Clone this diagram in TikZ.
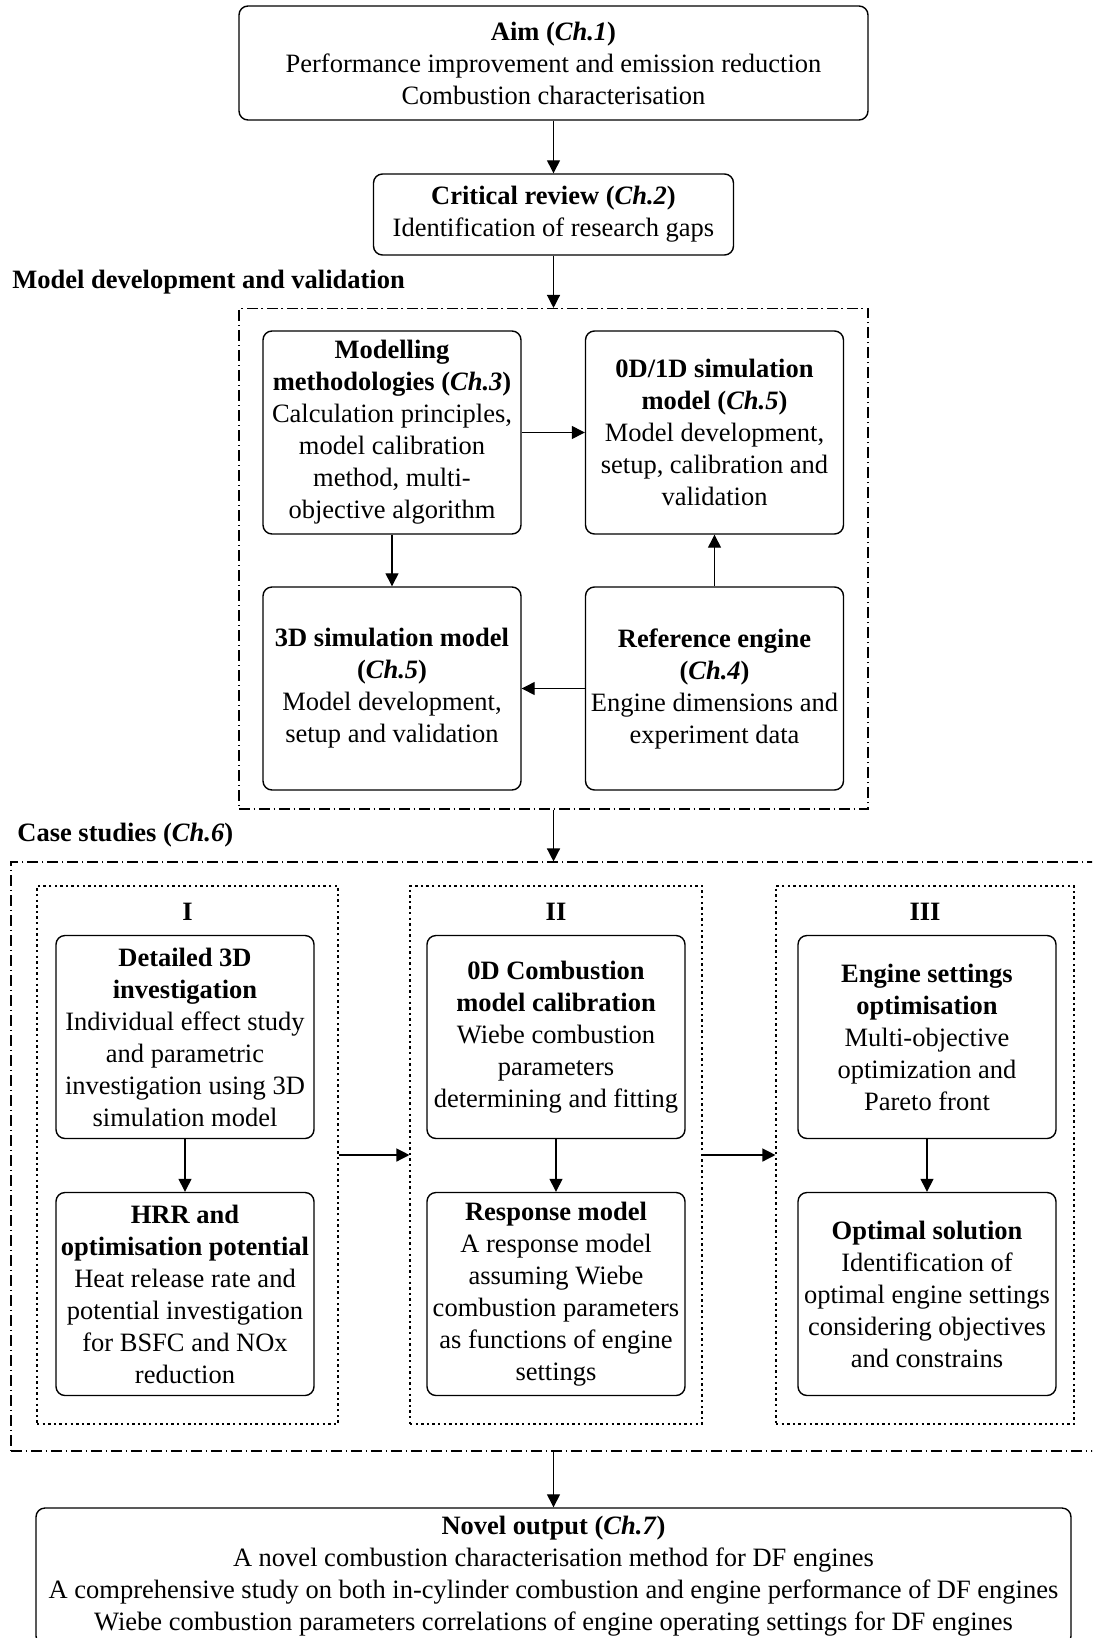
\documentclass[tikz,border=0pt]{standalone}
\usepackage{fontspec}
\setmainfont{Liberation Serif}
\usetikzlibrary{arrows.meta}
\begin{document}
\begin{tikzpicture}[x=0.5pt,y=-0.5pt,
  font=\fontsize{13.25pt}{16pt}\selectfont,
  box/.style={draw, line width=0.7pt, rounded corners=4.5pt, align=center,
    inner sep=0pt, minimum width=129pt, minimum height=101.5pt},
  frame/.style={draw, line width=0.55pt,
    dash pattern=on 5.5pt off 1.8pt on 0.9pt off 1.8pt, inner sep=0pt},
  group/.style={draw, line width=0.55pt, dash pattern=on 1.2pt off 1.6pt, inner sep=0pt},
  arr/.style={line width=0.65pt, -{Triangle[length=6.5pt,width=6.5pt]}},
  head/.style={inner sep=0pt, font=\fontsize{13.25pt}{16pt}\selectfont\bfseries}
]
\clip (0,0) rectangle (1092,1638);

% ---------- top of the chain ----------
\node[box, minimum width=314.5pt, minimum height=57pt] (aim) at (553.5,63)
  {\textbf{Aim (\textit{Ch.1})}\\Performance improvement and emission reduction\\Combustion characterisation};
\node[box, minimum width=180pt, minimum height=40.5pt] (crit) at (553.5,214.5)
  {\textbf{Critical review (\textit{Ch.2})}\\Identification of research gaps};

% ---------- model development and validation ----------
\node[head, anchor=west] (mdlabel) at (12,282) {Model development and validation};
\node[frame, minimum width=314.5pt, minimum height=250.25pt] (mdframe) at (553.5,558.75) {};

\node[box] (meth) at (392,432.5)
  {\textbf{Modelling}\\\textbf{methodologies (\textit{Ch.3})}\\Calculation principles,\\model calibration\\method, multi-\\objective algorithm};
\node[box] (sim01) at (714.5,432.5)
  {\textbf{0D/1D simulation}\\\textbf{model (\textit{Ch.5})}\\Model development,\\setup, calibration and\\validation};
\node[box] (sim3d) at (392,688.5)
  {\textbf{3D simulation model}\\\textbf{(\textit{Ch.5})}\\Model development,\\setup and validation};
\node[box] (refeng) at (714.5,688.5)
  {\textbf{Reference engine}\\\textbf{(\textit{Ch.4})}\\Engine dimensions and\\experiment data};

% ---------- case studies ----------
\node[head, anchor=west] (cslabel) at (17,835) {Case studies (\textit{Ch.6})};
\node[frame, minimum width=549.5pt, minimum height=294.5pt] (csframe) at (560.5,1156.5) {};

\node[group, minimum width=150.5pt, minimum height=269pt] (grpI) at (187.5,1155) {};
\node[group, minimum width=146pt, minimum height=269pt] (grpII) at (556,1155) {};
\node[group, minimum width=149pt, minimum height=269pt] (grpIII) at (925,1155) {};

\node[head] (labI) at (187.5,912) {I};
\node[head] (labII) at (556,912) {II};
\node[head] (labIII) at (925,912) {III};

\node[box] (det3d) at (185,1037)
  {\textbf{Detailed 3D}\\\textbf{investigation}\\Individual effect study\\and parametric\\investigation using 3D\\simulation model};
\node[box] (hrr) at (185,1294)
  {\textbf{HRR and}\\\textbf{optimisation potential}\\Heat release rate and\\potential investigation\\for BSFC and NOx\\reduction};
\node[box] (comb0d) at (556,1037)
  {\textbf{0D Combustion}\\\textbf{model calibration}\\Wiebe combustion\\parameters\\determining and fitting};
\node[box] (resp) at (556,1294)
  {\textbf{Response model}\\A response model\\assuming Wiebe\\combustion parameters\\as functions of engine\\settings};
\node[box] (engset) at (927,1037)
  {\textbf{Engine settings}\\\textbf{optimisation}\\Multi-objective\\optimization and\\Pareto front};
\node[box] (optsol) at (927,1294)
  {\textbf{Optimal solution}\\Identification of\\optimal engine settings\\considering objectives\\and constrains};

% ---------- output (its lower edge runs past the page) ----------
\node[box, minimum width=517.5pt, minimum height=68.5pt] (novel) at (553.5,1576.5)
  {\textbf{Novel output (\textit{Ch.7})}\\A novel combustion characterisation method for DF engines\\A comprehensive study on both in-cylinder combustion and engine performance of DF engines\\Wiebe combustion parameters correlations of engine operating settings for DF engines};

% ---------- connectors ----------
\draw[arr] (aim.south) -- (crit.north);
\draw[arr] (crit.south) -- (mdframe.north);
\draw[arr] (meth.east) -- (sim01.west);
\draw[arr] (meth.south) -- (sim3d.north);
\draw[arr] (refeng.north) -- (sim01.south);
\draw[arr] (refeng.west) -- (sim3d.east);
\draw[arr] (mdframe.south) -- (mdframe.south |- csframe.north);
\draw[arr] (det3d.south) -- (hrr.north);
\draw[arr] (comb0d.south) -- (resp.north);
\draw[arr] (engset.south) -- (optsol.north);
\draw[arr] (grpI.east) -- (grpII.west);
\draw[arr] (grpII.east) -- (grpIII.west);
\draw[arr] (mdframe.south |- csframe.south) -- (novel.north);
\end{tikzpicture}
\end{document}
